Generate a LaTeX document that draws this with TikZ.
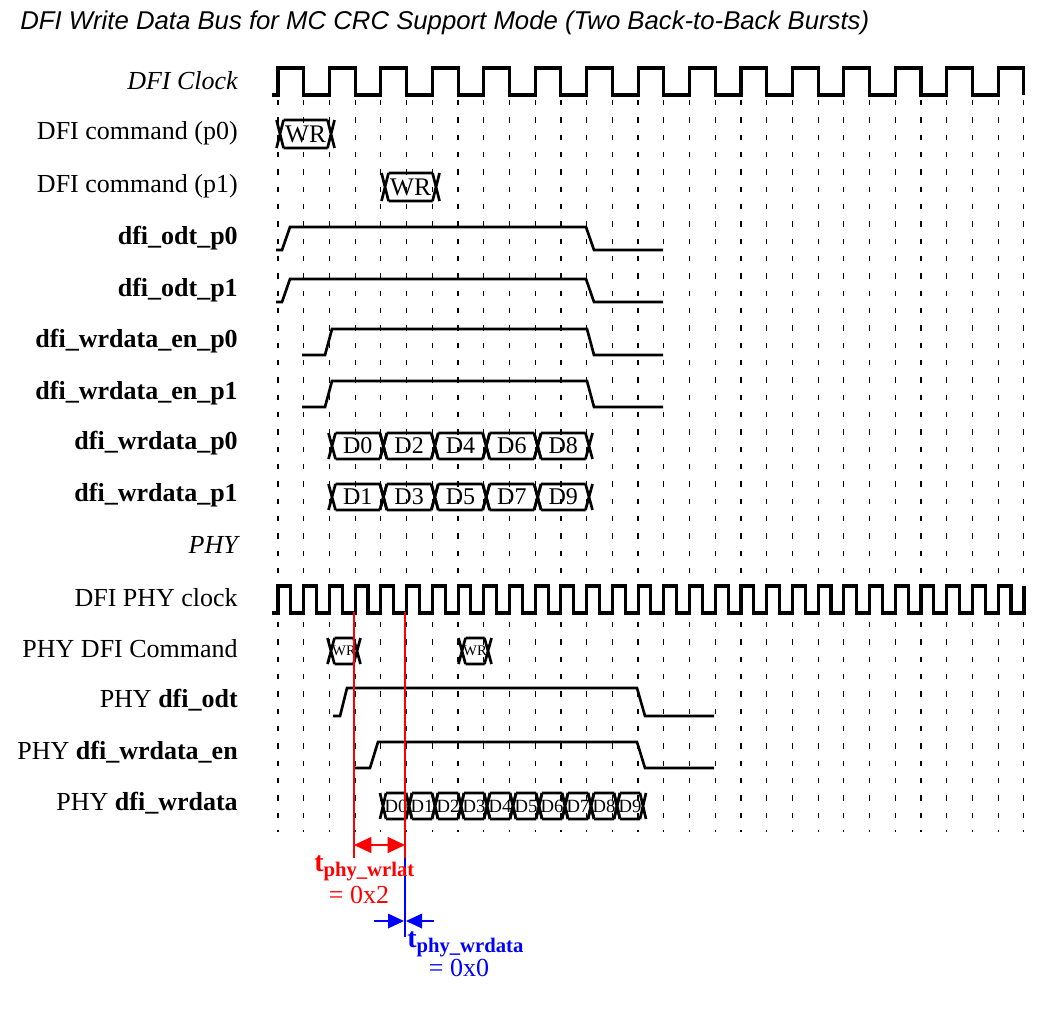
\documentclass[tikz,border=0pt]{standalone}
\usepackage{fontspec}
\setmainfont{Liberation Serif}
\newfontfamily\titlefont{Liberation Sans}
\usetikzlibrary{arrows.meta}
\newcommand\busbox[7]{%
\draw[wave] (#1-#5,#3-#4)--(#1+#5,#3+#4) (#1-#5,#3+#4)--(#1+#5,#3-#4)
 (#1+#5,#3-#4)--(#2-#5,#3-#4) (#1+#5,#3+#4)--(#2-#5,#3+#4)
 (#2-#5,#3-#4)--(#2+#5,#3+#4) (#2-#5,#3+#4)--(#2+#5,#3-#4);
\node[font=\fontsize{#7}{#7}\selectfont,inner sep=0pt] at ({(#1+#2)/2},#3) {#6};}
\begin{document}
\begin{tikzpicture}[x=0.75pt,y=-0.75pt,
 wave/.style={line width=2pt,line join=miter},
 clk/.style={line width=2.3pt,line join=miter},
 gridl/.style={line width=0.9pt,dash pattern=on 4pt off 9pt},
 lbl/.style={anchor=east,font=\fontsize{19.5}{22}\selectfont,inner sep=0pt}]
\useasboundingbox (0,0) rectangle (1061,1008);
\node[anchor=west,inner sep=0pt,font=\titlefont\itshape\fontsize{19.3}{21}\selectfont] (title) at (20,23) {DFI Write Data Bus for MC CRC Support Mode (Two Back-to-Back Bursts)};
% labels
\node[lbl,font=\itshape\fontsize{19.5}{22}\selectfont] (l1) at (238,81) {DFI Clock};
\node[lbl] (l2) at (238,133) {DFI command (p0)};
\node[lbl] (l3) at (238,186) {DFI command (p1)};
\node[lbl] (l4) at (238,238) {\textbf{dfi\_odt\_p0}};
\node[lbl] (l5) at (238,290) {\textbf{dfi\_odt\_p1}};
\node[lbl] (l6) at (238,341) {\textbf{dfi\_wrdata\_en\_p0}};
\node[lbl] (l7) at (238,393) {\textbf{dfi\_wrdata\_en\_p1}};
\node[lbl] (l8) at (238,443) {\textbf{dfi\_wrdata\_p0}};
\node[lbl] (l9) at (238,495) {\textbf{dfi\_wrdata\_p1}};
\node[lbl,font=\itshape\fontsize{19.5}{22}\selectfont] (l10) at (238,545) {PHY};
\node[lbl] (l11) at (238,598) {DFI PHY clock};
\node[lbl] (l12) at (238,649) {PHY DFI Command};
\node[lbl] (l13) at (238,700) {PHY \textbf{dfi\_odt}};
\node[lbl] (l14) at (238,752) {PHY \textbf{dfi\_wrdata\_en}};
\node[lbl] (l15) at (238,803) {PHY \textbf{dfi\_wrdata}};
% grid
\foreach \k in {0,...,29}{
 \draw[gridl] ({278+25.72*\k},100) -- ({278+25.72*\k},575);
 \draw[gridl] ({278+25.72*\k},622) -- ({278+25.72*\k},832);}
% clocks
\draw[clk] (272,95) foreach \k in {0,...,14}{ -- ({278+51.44*\k},95) -- ({278+51.44*\k},68) -- ({303.72+51.44*\k},68) -- ({303.72+51.44*\k},95)};
\draw[clk] (272,613) foreach \k in {0,...,28}{ -- ({278+25.72*\k},613) -- ({278+25.72*\k},586) -- ({290.86+25.72*\k},586) -- ({290.86+25.72*\k},613)} -- (1024,613) -- (1024,586);
% commands
\busbox{280}{331}{134}{14}{3.5}{WR}{19}
\busbox{385}{436}{187}{14}{3.5}{WR}{19}
% levels
\draw[wave] (276,250)--(282,250)--(290,227)--(586,227)--(594,250)--(663,250);
\draw[wave] (276,302)--(282,302)--(290,279)--(586,279)--(594,302)--(663,302);
\draw[wave] (302,355)--(325,355)--(332,329)--(587,329)--(594,355)--(663,355);
\draw[wave] (302,407)--(325,407)--(332,381)--(587,381)--(594,407)--(663,407);
% data
\foreach \l [count=\i from 0] in {D0,D2,D4,D6,D8}
 {\busbox{332+51.4*\i}{332+51.4*\i+51.4}{446}{13}{3.5}{\l}{18}}
\foreach \l [count=\i from 0] in {D1,D3,D5,D7,D9}
 {\busbox{332+51.4*\i}{332+51.4*\i+51.4}{497}{13}{3.5}{\l}{18}}
% PHY
\busbox{331}{357}{651}{13}{3.5}{WR}{11}
\busbox{462}{488}{651}{13}{3.5}{WR}{11}
\draw[wave] (333,716)--(340,716)--(347,688)--(637,688)--(645,716)--(714,716);
\draw[wave] (353,768)--(370,768)--(378,742)--(637,742)--(645,768)--(714,768);
\foreach \l [count=\i from 0] in {D0,D1,D2,D3,D4,D5,D6,D7,D8,D9}
 {\busbox{383+26*\i}{383+26*\i+26}{806}{13}{3}{\l}{14}}
% timing
\coordinate (r1t) at (354,612); \coordinate (r1b) at (354,858);
\coordinate (r2t) at (405,612); \coordinate (r2m) at (405,858); \coordinate (r2b) at (405,937);
\draw[red,line width=0.8pt] (r1t)--(r1b) (r2t)--(r2m);
\draw[blue,line width=0.8pt] (r2m)--(r2b);
\coordinate (ra) at (354,845); \coordinate (rb) at (405,845);
\draw[red,line width=0.9pt,{Triangle[length=13pt,width=12pt]}-{Triangle[length=13pt,width=12pt]}] (ra)--(rb);
\coordinate (b1) at (374,921); \coordinate (b1e) at (404,921);
\coordinate (b2) at (434,921); \coordinate (b2e) at (406,921);
\draw[blue,line width=0.9pt,-{Triangle[length=12pt,width=11pt]}] (b1)--(b1e);
\draw[blue,line width=0.9pt,-{Triangle[length=12pt,width=11pt]}] (b2)--(b2e);
\node[red,inner sep=0pt,anchor=west,font=\bfseries\fontsize{21}{22}\selectfont] (tw) at (314,868) {t\textsubscript{\fontsize{15.5}{16}\selectfont phy\_wrlat}};
\node[red,inner sep=0pt,font=\fontsize{19.5}{22}\selectfont] (tw2) at (359,895) {= 0x2};
\node[blue,inner sep=0pt,anchor=west,font=\bfseries\fontsize{21}{22}\selectfont] (td) at (407,944) {t\textsubscript{\fontsize{15.5}{16}\selectfont phy\_wrdata}};
\node[blue,inner sep=0pt,font=\fontsize{19.5}{22}\selectfont] (td2) at (459,968) {= 0x0};
\end{tikzpicture}
\end{document}
